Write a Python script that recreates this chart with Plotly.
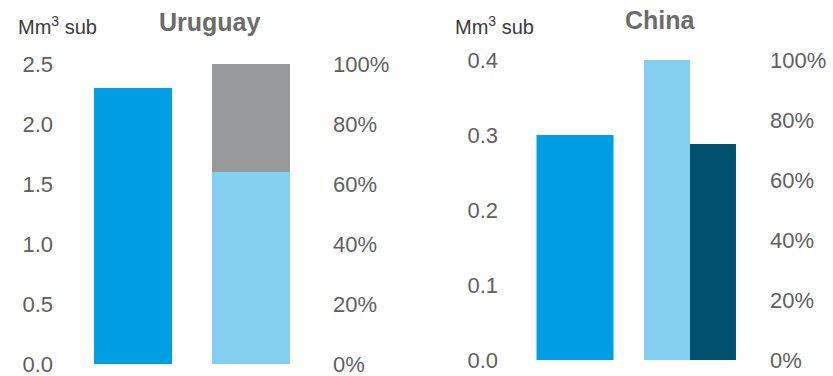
import plotly.graph_objects as go

# Volumes (Mm³ sub) and shares (%) per country
uru_volume = [2.3]
uru_share_main = [64]
uru_share_rest = [36]

chn_volume = [0.30]
chn_share_a = [100]
chn_share_b = [72]

BLUE = "#009FE3"
LIGHT = "#82CFEF"
GREY = "#98999B"
NAVY = "#00516E"
TXT = "#5F5F5F"

W, H = 833, 376


def px_x(p):
    return p / W


def px_y(p):
    return (H - p) / H


fig = go.Figure()

# Uruguay panel
fig.add_trace(go.Bar(x=[0], y=uru_volume, width=[0.661], marker=dict(color=BLUE, line_width=0),
                     xaxis="x", yaxis="y"))
fig.add_trace(go.Bar(x=[1], y=uru_share_main, width=[0.661], marker=dict(color=LIGHT, line_width=0),
                     xaxis="x", yaxis="y2"))
fig.add_trace(go.Bar(x=[1], y=uru_share_rest, base=uru_share_main, width=[0.661],
                     marker=dict(color=GREY, line_width=0), xaxis="x", yaxis="y2"))

# China panel
fig.add_trace(go.Bar(x=[0], y=chn_volume, width=[0.837], marker=dict(color=BLUE, line_width=0),
                     xaxis="x2", yaxis="y3"))
fig.add_trace(go.Bar(x=[1], y=chn_share_a, width=[0.5], marker=dict(color=LIGHT, line_width=0),
                     xaxis="x2", yaxis="y4"))
fig.add_trace(go.Bar(x=[1.5], y=chn_share_b, width=[0.5], marker=dict(color=NAVY, line_width=0),
                     xaxis="x2", yaxis="y4"))

tickfont = dict(family="Liberation Sans, Arial, sans-serif", size=22, color=TXT)
common_y = dict(showgrid=False, zeroline=False, showline=False, ticks="", tickfont=tickfont,
                automargin=False, ticklabeloverflow="allow")
common_x = dict(showgrid=False, zeroline=False, showline=False, showticklabels=False, ticks="",
                automargin=False)

fig.update_layout(
    width=W, height=H,
    margin=dict(l=0, r=0, t=0, b=0, pad=0),
    paper_bgcolor="white", plot_bgcolor="white",
    showlegend=False,
    barmode="overlay",
    xaxis=dict(domain=[px_x(60), px_x(325)], range=[-0.6186, 1.627], anchor="y", **common_x),
    yaxis=dict(domain=[px_y(364), px_y(64)], range=[0, 2.5], dtick=0.5, tickformat=".1f",
               anchor="free", position=px_x(53), side="left", **common_y),
    yaxis2=dict(domain=[px_y(364), px_y(64)], range=[0, 100], dtick=20, ticksuffix="%",
                overlaying="y", anchor="free", position=px_x(332), side="right", **common_y),
    xaxis2=dict(domain=[px_x(520), px_x(760)], range=[-0.598, 2.011], anchor="y3", **common_x),
    yaxis3=dict(domain=[px_y(360), px_y(60)], range=[0, 0.4], dtick=0.1, tickformat=".1f",
                anchor="free", position=px_x(498), side="left", **common_y),
    yaxis4=dict(domain=[px_y(360), px_y(60)], range=[0, 100], dtick=20, ticksuffix="%",
                overlaying="y3", anchor="free", position=px_x(769), side="right", **common_y),
)

label_font = dict(family="Liberation Sans, Arial, sans-serif", size=20, color="#3a3a3a")
title_font = dict(family="Liberation Sans, Arial, sans-serif", size=25, color="#6B6B6B")

fig.add_annotation(text="Mm<sup>3</sup> sub", x=px_x(16), y=px_y(25), xref="paper", yref="paper",
                   xanchor="left", yanchor="middle", showarrow=False, font=label_font)
fig.add_annotation(text="Mm<sup>3</sup> sub", x=px_x(453), y=px_y(25), xref="paper", yref="paper",
                   xanchor="left", yanchor="middle", showarrow=False, font=label_font)
fig.add_annotation(text="<b>Uruguay</b>", x=px_x(210), y=px_y(22), xref="paper", yref="paper",
                   xanchor="center", yanchor="middle", showarrow=False, font=title_font)
fig.add_annotation(text="<b>China</b>", x=px_x(660), y=px_y(20), xref="paper", yref="paper",
                   xanchor="center", yanchor="middle", showarrow=False, font=title_font)

fig.write_html("out.html")
